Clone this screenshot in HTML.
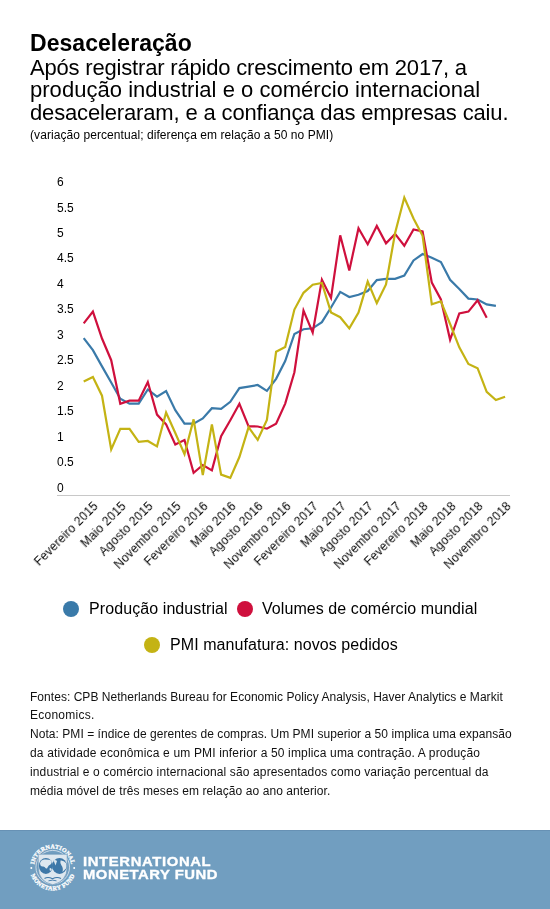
<!DOCTYPE html>
<html><head><meta charset="utf-8">
<style>
html,body{margin:0;padding:0;background:#fff;}
body{width:550px;height:909px;position:relative;overflow:hidden;font-family:"Liberation Sans", sans-serif;color:#000;}
.t{position:absolute;white-space:nowrap;line-height:1.15;will-change:transform;}
.yl{position:absolute;left:57.3px;font-size:12px;line-height:14px;will-change:transform;}
.xl{position:absolute;top:499px;width:200px;letter-spacing:0.25px;text-align:right;font-size:12px;line-height:14px;transform-origin:100% 0;transform:rotate(-45deg);white-space:nowrap;will-change:transform;}
.dot{position:absolute;width:16px;height:16px;border-radius:50%;}
#band{position:absolute;left:0;top:830px;width:550px;height:79px;background:#719ec0;border-top:1px solid #6791b4;box-sizing:border-box;}
.imf{position:absolute;left:82.7px;font-size:13.5px;font-weight:bold;color:#fff;line-height:14px;white-space:nowrap;transform-origin:0 0;transform:scaleX(1.1);-webkit-text-stroke:0.35px #fff;will-change:transform;}
</style></head><body>
<div class="t" style="left:30px;top:30.3px;font-size:23px;font-weight:bold;color:#000;letter-spacing:0.050px">Desaceleração</div>
<div class="t" style="left:30px;top:54.5px;font-size:22px;font-weight:normal;color:#000;letter-spacing:-0.186px">Após registrar rápido crescimento em 2017, a</div>
<div class="t" style="left:30px;top:77px;font-size:22px;font-weight:normal;color:#000;letter-spacing:0.031px">produção industrial e o comércio internacional</div>
<div class="t" style="left:30px;top:99.5px;font-size:22px;font-weight:normal;color:#000;letter-spacing:-0.152px">desaceleraram, e a confiança das empresas caiu.</div>
<div class="t" style="left:30px;top:129px;font-size:12px;font-weight:normal;color:#000;letter-spacing:0.070px">(variação percentual; diferença em relação a 50 no PMI)</div>
<div class="t" style="left:89px;top:599.6px;font-size:16px;font-weight:normal;color:#000;letter-spacing:0.089px">Produção industrial</div>
<div class="t" style="left:262px;top:599.6px;font-size:16px;font-weight:normal;color:#000;letter-spacing:0.069px">Volumes de comércio mundial</div>
<div class="t" style="left:170px;top:636px;font-size:16px;font-weight:normal;color:#000;letter-spacing:0.064px">PMI manufatura: novos pedidos</div>
<div class="t" style="left:30px;top:690.5px;font-size:12px;font-weight:normal;color:#111;letter-spacing:0.038px">Fontes: CPB Netherlands Bureau for Economic Policy Analysis, Haver Analytics e Markit</div>
<div class="t" style="left:30px;top:709.4px;font-size:12px;font-weight:normal;color:#111;letter-spacing:0.244px">Economics.</div>
<div class="t" style="left:30px;top:728.3px;font-size:12px;font-weight:normal;color:#111;letter-spacing:0.046px">Nota: PMI = índice de gerentes de compras. Um PMI superior a 50 implica uma expansão</div>
<div class="t" style="left:30px;top:747.2px;font-size:12px;font-weight:normal;color:#111;letter-spacing:0.159px">da atividade econômica e um PMI inferior a 50 implica uma contração. A produção</div>
<div class="t" style="left:30px;top:766.1px;font-size:12px;font-weight:normal;color:#111;letter-spacing:0.133px">industrial e o comércio internacional são apresentados como variação percentual da</div>
<div class="t" style="left:30px;top:785.0px;font-size:12px;font-weight:normal;color:#111;letter-spacing:0.081px">média móvel de três meses em relação ao ano anterior.</div>

<div class="yl" style="top:175.0px">6</div>
<div class="yl" style="top:200.5px">5.5</div>
<div class="yl" style="top:226.0px">5</div>
<div class="yl" style="top:251.4px">4.5</div>
<div class="yl" style="top:276.9px">4</div>
<div class="yl" style="top:302.4px">3.5</div>
<div class="yl" style="top:327.9px">3</div>
<div class="yl" style="top:353.4px">2.5</div>
<div class="yl" style="top:378.8px">2</div>
<div class="yl" style="top:404.3px">1.5</div>
<div class="yl" style="top:429.8px">1</div>
<div class="yl" style="top:455.3px">0.5</div>
<div class="yl" style="top:480.8px">0</div>

<svg style="position:absolute;left:0;top:0" width="550" height="909">
<line x1="57" y1="495.5" x2="510" y2="495.5" stroke="#c8c8c8" stroke-width="1"/>
<polyline fill="none" stroke="#3a7aa9" stroke-width="2.2" stroke-linejoin="miter" points="83.7,338.1 92.9,350.2 102.0,366.4 111.2,382.5 120.3,398.7 129.5,403.7 138.7,403.7 147.8,389.5 157.0,396.7 166.1,391.0 175.3,410.2 184.5,423.6 193.6,423.6 202.8,418.5 211.9,408.2 221.1,408.8 230.3,401.8 239.4,388.1 248.6,386.6 257.7,385.0 266.9,390.9 276.1,378.8 285.2,361.0 294.4,333.9 303.5,329.2 312.7,328.3 321.9,322.1 331.0,307.5 340.2,291.9 349.3,297.0 358.5,294.7 367.7,291.0 376.8,280.1 386.0,278.8 395.1,278.8 404.3,275.5 413.5,260.4 422.6,254.0 431.8,257.7 440.9,262.0 450.1,279.8 459.3,289.1 468.4,298.6 477.6,299.5 486.7,304.4 495.9,305.9"/>
<polyline fill="none" stroke="#cf103d" stroke-width="2.2" stroke-linejoin="miter" points="83.7,323.4 92.9,311.6 102.0,338.5 111.2,360.2 120.3,403.7 129.5,400.7 138.7,400.7 147.8,382.0 157.0,414.6 166.1,424.4 175.3,444.5 184.5,440.0 193.6,472.9 202.8,465.0 211.9,470.4 221.1,436.1 230.3,420.2 239.4,403.8 248.6,426.3 257.7,426.5 266.9,428.7 276.1,423.7 285.2,403.6 294.4,372.2 303.5,310.5 312.7,332.6 321.9,279.7 331.0,297.9 340.2,235.3 349.3,270.4 358.5,228.3 367.7,244.2 376.8,225.9 386.0,243.3 395.1,233.9 404.3,245.7 413.5,229.5 422.6,231.5 431.8,282.6 440.9,299.4 450.1,339.8 459.3,313.5 468.4,311.6 477.6,300.3 486.7,317.7"/>
<polyline fill="none" stroke="#c4b314" stroke-width="2.2" stroke-linejoin="miter" points="83.7,381.6 92.9,377.0 102.0,395.7 111.2,449.5 120.3,428.8 129.5,428.8 138.7,441.9 147.8,441.0 157.0,446.4 166.1,412.5 175.3,433.0 184.5,454.2 193.6,419.4 202.8,475.1 211.9,424.4 221.1,474.6 230.3,477.9 239.4,457.0 248.6,427.2 257.7,439.9 266.9,419.9 276.1,351.7 285.2,347.0 294.4,309.6 303.5,292.8 312.7,284.7 321.9,282.9 331.0,312.4 340.2,317.2 349.3,328.4 358.5,312.5 367.7,281.6 376.8,303.1 386.0,284.4 395.1,233.0 404.3,197.5 413.5,218.5 422.6,235.8 431.8,304.4 440.9,301.3 450.1,324.0 459.3,347.3 468.4,364.0 477.6,368.2 486.7,391.8 495.9,400.0 505.1,396.7"/>
</svg>
<div class="xl" style="left:-108.6px">Fevereiro 2015</div>
<div class="xl" style="left:-81.2px">Maio 2015</div>
<div class="xl" style="left:-53.7px">Agosto 2015</div>
<div class="xl" style="left:-26.2px">Novembro 2015</div>
<div class="xl" style="left:1.3px">Fevereiro 2016</div>
<div class="xl" style="left:28.8px">Maio 2016</div>
<div class="xl" style="left:56.2px">Agosto 2016</div>
<div class="xl" style="left:83.7px">Novembro 2016</div>
<div class="xl" style="left:111.2px">Fevereiro 2017</div>
<div class="xl" style="left:138.7px">Maio 2017</div>
<div class="xl" style="left:166.2px">Agosto 2017</div>
<div class="xl" style="left:193.6px">Novembro 2017</div>
<div class="xl" style="left:221.1px">Fevereiro 2018</div>
<div class="xl" style="left:248.6px">Maio 2018</div>
<div class="xl" style="left:276.1px">Agosto 2018</div>
<div class="xl" style="left:303.6px">Novembro 2018</div>

<div class="dot" style="left:63px;top:601px;background:#3a7aa9"></div>
<div class="dot" style="left:237px;top:601px;background:#cf103d"></div>
<div class="dot" style="left:144px;top:637px;background:#c4b314"></div>
<div id="band"></div>
<svg style="position:absolute;left:0;top:830px" width="120" height="79" viewBox="0 830 120 79">
<defs>
<path id="arcT" d="M 43.45 883.31 A 18.6 18.6 0 1 1 62.05 883.31"/>
<path id="arcB" d="M 41.15 847.11 A 23.2 23.2 0 1 0 64.35 847.11"/>
</defs>
<text font-family="Liberation Serif" font-weight="bold" font-size="6" fill="#fff" stroke="#fff" stroke-width="0.3" letter-spacing="0.15"><textPath href="#arcT" startOffset="50%" text-anchor="middle">INTERNATIONAL</textPath></text>
<text font-family="Liberation Serif" font-weight="bold" font-size="6" fill="#fff" stroke="#fff" stroke-width="0.3" letter-spacing="0.3"><textPath href="#arcB" startOffset="50%" text-anchor="middle">MONETARY FUND</textPath></text>
<circle cx="31.3" cy="868" r="1" fill="#fff"/>
<circle cx="74.2" cy="868" r="1" fill="#fff"/>
<circle cx="52.75" cy="867.2" r="16.8" fill="none" stroke="#dfe9f1" stroke-width="0.8"/>
<path d="M 38.2 854.2 L 67.2 854.2 L 67.2 867 Q 67.2 881.5 52.75 884.8 Q 38.2 881.5 38.2 867 Z" fill="#dde7ef" stroke="#5f8db3" stroke-width="0.6"/>
<ellipse cx="45.9" cy="865.9" rx="7" ry="8" fill="#3e78a8"/>
<ellipse cx="59.5" cy="865.9" rx="7.4" ry="8" fill="#3e78a8"/>
<path d="M 40 863 Q 41 860 44 859.6 Q 48 859.2 51.5 860.5 Q 52.2 863 50.5 864.5 Q 48.5 865 47.8 867 Q 47 869.5 45.5 868 Q 44.5 866 42.5 866.5 Q 40.2 866.5 40 863 Z" fill="#dde7ef"/>
<path d="M 49.5 868.5 Q 51 867 51.8 869.5 Q 51 871.5 49.8 870.5 Z" fill="#dde7ef"/>
<path d="M 53.6 860.2 Q 55.5 859.5 57 861 Q 56.2 863.5 55.5 865.5 Q 54.5 863 53.6 860.2 Z" fill="#dde7ef"/>
<path d="M 60.5 860.5 Q 63.5 860 66 863 Q 67 866.5 66 868.5 L 62.5 872 Q 63.5 868 61.5 865.5 Q 59.8 863 60.5 860.5 Z" fill="#dde7ef"/>
<path d="M 44.5 878.5 Q 48 876.5 52.5 878.8 Q 57 876.5 61 878.5" fill="none" stroke="#3e78a8" stroke-width="1.1"/>
<path d="M 48.5 880.8 Q 52.5 879.5 56.5 880.8" fill="none" stroke="#3e78a8" stroke-width="0.9"/>
</svg>
<div class="imf" style="top:854.7px;letter-spacing:0.57px">INTERNATIONAL</div>
<div class="imf" style="top:868.3px;letter-spacing:0.45px">MONETARY FUND</div>
</body></html>
